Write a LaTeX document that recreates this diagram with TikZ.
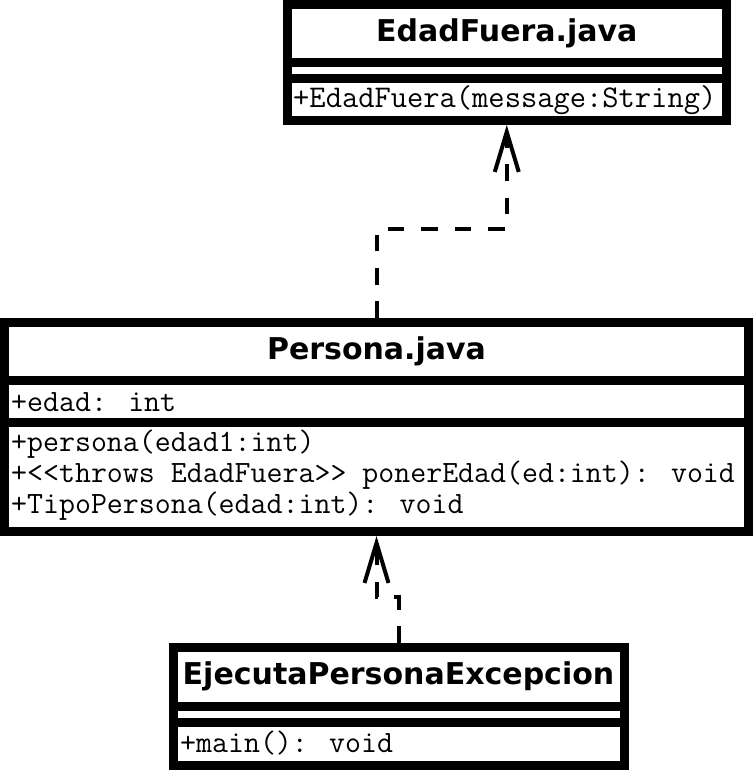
\documentclass[tikz,border=0pt]{standalone}
\usepackage{fontspec}
\usetikzlibrary{arrows.meta,positioning}
\newfontfamily\umlsans{DejaVu Sans}

\begin{document}
\begin{tikzpicture}[x=1pt,y=-1pt,
  classpart/.style={draw, line width=9pt, inner sep=0pt,
    font=\umlsans\bfseries\fontsize{30}{30}\selectfont},
  member/.style={anchor=base west, inner sep=0pt,
    font=\ttfamily\fontsize{31}{31}\selectfont},
  realize/.style={line width=4pt, dash pattern=on 16.7pt off 16.7pt,
    -{Straight Barb[length=40pt,width=24pt]}}]
\useasboundingbox (0,0) rectangle (753,770);

%Shape: Class EdadFuera
\node [classpart, anchor=north west, minimum width=438.5pt, minimum height=58pt] (edadTitle) at (283,0) {EdadFuera.java};
\node [classpart, below=-9pt of edadTitle, minimum width=438.5pt, minimum height=16.5pt] (edadAttr) {};
\node [classpart, below=-9pt of edadAttr, minimum width=438.5pt, minimum height=41.5pt] (edadOps) {};

%Shape: Class Persona
\node [classpart, anchor=north west, minimum width=744pt, minimum height=57.5pt] (personaTitle) at (0,318) {Persona.java};
\node [classpart, below=-9pt of personaTitle, minimum width=744pt, minimum height=42pt] (personaAttr) {};
\node [classpart, below=-9pt of personaAttr, minimum width=744pt, minimum height=109.5pt] (personaOps) {};

%Shape: Class EjecutaPersonaExcepcion
\node [classpart, anchor=north west, minimum width=451pt, minimum height=58.5pt] (ejecutaTitle) at (168.5,643) {EjecutaPersonaExcepcion};
\node [classpart, below=-9pt of ejecutaTitle, minimum width=451pt, minimum height=16.5pt] (ejecutaAttr) {};
\node [classpart, below=-9pt of ejecutaAttr, minimum width=451pt, minimum height=43pt] (ejecutaOps) {};

% Text Node
\node [member, font=\ttfamily\fontsize{31.6}{31.6}\selectfont] (edadCtor) at (293,108) {+EdadFuera(message:String)};
% Text Node
\node [member] (personaEdad) at (11,411) {+edad: int};
% Text Node
\node [member] (personaCtor) at (11,451) {+persona(edad1:int)};
% Text Node
\node [member] (personaPoner) at (11,482) {+<\kern0pt<throws EdadFuera>\kern0pt> ponerEdad(ed:int): void};
% Text Node
\node [member] (personaTipo) at (11,513) {+TipoPersona(edad:int): void};
% Text Node
\node [member] (ejecutaMain) at (180,752) {+main(): void};

%Dependency arrows
\draw [realize] (personaTitle.north) -- ++(0,-89) -| (edadOps.south);
\draw [realize] (ejecutaTitle.north) -- ++(0,-46) -| (personaOps.south);

\end{tikzpicture}
\end{document}
